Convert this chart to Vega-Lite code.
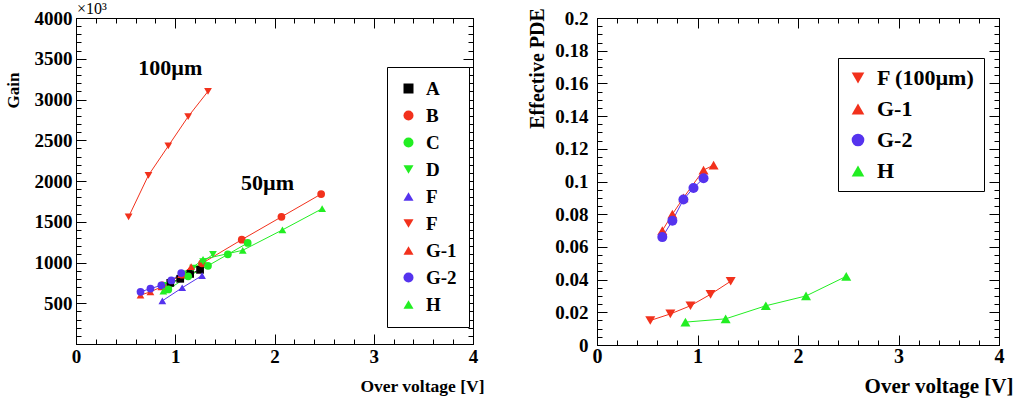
{
  "$schema": "https://vega.github.io/schema/vega-lite/v6.json",
  "autosize": {"type": "pad"},
  "padding": {"left": 3, "top": 0, "right": 5, "bottom": 5},
  "bounds": "flush",
  "spacing": 124,
  "resolve": {"scale": {"color": "independent", "shape": "independent", "stroke": "independent"}},
  "config": {
    "font": "Liberation Serif",
    "view": {"stroke": "black", "strokeWidth": 1},
    "axis": {"grid": false, "domainColor": "black", "tickColor": "black", "labelColor": "black", "titleColor": "black", "labelFont": "Liberation Serif", "titleFont": "Liberation Serif", "labelFontWeight": "bold", "titleFontWeight": "bold", "labelFlush": false, "labelOverlap": false, "labelBound": false}
  },
  "datasets": {
    "gain": [
      {"s": "A", "v": 0.95, "g": 750}, {"s": "A", "v": 1.05, "g": 800}, {"s": "A", "v": 1.15, "g": 860}, {"s": "A", "v": 1.25, "g": 910},
      {"s": "B", "v": 0.87, "g": 720}, {"s": "B", "v": 1.07, "g": 850}, {"s": "B", "v": 1.27, "g": 990}, {"s": "B", "v": 1.67, "g": 1280}, {"s": "B", "v": 2.07, "g": 1560}, {"s": "B", "v": 2.47, "g": 1840},
      {"s": "C", "v": 0.93, "g": 670}, {"s": "C", "v": 1.13, "g": 830}, {"s": "C", "v": 1.33, "g": 960}, {"s": "C", "v": 1.53, "g": 1100}, {"s": "C", "v": 1.73, "g": 1240},
      {"s": "D", "v": 0.88, "g": 720}, {"s": "D", "v": 1.08, "g": 860}, {"s": "D", "v": 1.18, "g": 930}, {"s": "D", "v": 1.28, "g": 1010}, {"s": "D", "v": 1.38, "g": 1100},
      {"s": "F50", "v": 0.87, "g": 530}, {"s": "F50", "v": 1.07, "g": 690}, {"s": "F50", "v": 1.27, "g": 840},
      {"s": "F100", "v": 0.53, "g": 1560}, {"s": "F100", "v": 0.73, "g": 2070}, {"s": "F100", "v": 0.93, "g": 2430}, {"s": "F100", "v": 1.13, "g": 2790}, {"s": "F100", "v": 1.33, "g": 3100},
      {"s": "G-1", "v": 0.65, "g": 600}, {"s": "G-1", "v": 0.75, "g": 640}, {"s": "G-1", "v": 0.86, "g": 700}, {"s": "G-1", "v": 1.06, "g": 850}, {"s": "G-1", "v": 1.16, "g": 950},
      {"s": "G-2", "v": 0.65, "g": 640}, {"s": "G-2", "v": 0.75, "g": 680}, {"s": "G-2", "v": 0.86, "g": 720}, {"s": "G-2", "v": 0.96, "g": 780}, {"s": "G-2", "v": 1.06, "g": 870},
      {"s": "H", "v": 0.88, "g": 650}, {"s": "H", "v": 1.28, "g": 1040}, {"s": "H", "v": 1.68, "g": 1150}, {"s": "H", "v": 2.08, "g": 1400}, {"s": "H", "v": 2.48, "g": 1660}
    ],
    "pde": [
      {"s": "F100", "v": 0.53, "p": 0.015}, {"s": "F100", "v": 0.73, "p": 0.019}, {"s": "F100", "v": 0.93, "p": 0.024}, {"s": "F100", "v": 1.13, "p": 0.031}, {"s": "F100", "v": 1.33, "p": 0.039},
      {"s": "G-1", "v": 0.65, "p": 0.070}, {"s": "G-1", "v": 0.75, "p": 0.080}, {"s": "G-1", "v": 0.86, "p": 0.090}, {"s": "G-1", "v": 1.06, "p": 0.107}, {"s": "G-1", "v": 1.16, "p": 0.110},
      {"s": "G-2", "v": 0.65, "p": 0.066}, {"s": "G-2", "v": 0.75, "p": 0.076}, {"s": "G-2", "v": 0.86, "p": 0.089}, {"s": "G-2", "v": 0.96, "p": 0.096}, {"s": "G-2", "v": 1.06, "p": 0.102},
      {"s": "H", "v": 0.88, "p": 0.014}, {"s": "H", "v": 1.28, "p": 0.016}, {"s": "H", "v": 1.68, "p": 0.024}, {"s": "H", "v": 2.08, "p": 0.030}, {"s": "H", "v": 2.48, "p": 0.042}
    ],
    "labelsL": [
      {"v": 0.95, "g": 3387, "t": "100µm"},
      {"v": 1.93, "g": 1975, "t": "50µm"}
    ],
    "expL": [
      {"v": 0, "g": 4000, "t": "×10³"}
    ]
  },
  "hconcat": [
    {
      "width": 397,
      "height": 326,
      "resolve": {"axis": {"x": "independent", "y": "independent"}},
      "layer": [
        {
          "data": {"name": "gain"},
          "mark": {"type": "line", "strokeWidth": 1},
          "encoding": {
            "x": {"field": "v", "type": "quantitative", "scale": {"domain": [0, 4], "nice": false, "zero": false},
              "axis": {"orient": "bottom", "values": [0, 1, 2, 3, 4], "format": "d",
                "labelFontSize": 19, "labelPadding": 13, "tickSize": -10,
                "title": "Over voltage [V]", "titleFontSize": 17.5, "titleX": 408, "titleY": 42, "titleAlign": "right", "titleBaseline": "middle", "titleAnchor": null}},
            "y": {"field": "g", "type": "quantitative", "scale": {"domain": [0, 4000], "nice": false},
              "axis": {"orient": "left", "values": [0, 500, 1000, 1500, 2000, 2500, 3000, 3500, 4000], "format": "d",
                "labelExpr": "datum.value > 0 ? datum.label : ''",
                "labelFontSize": 19, "labelPadding": 14, "tickSize": -10,
                "title": "Gain", "titleFontSize": 17, "titleAngle": -90, "titleX": -63, "titleY": 72, "titleAlign": "center", "titleBaseline": "middle", "titleAnchor": null}},
            "stroke": {"field": "s", "type": "nominal", "legend": null,
              "scale": {"domain": ["H","G-2","G-1","F100","F50","D","C","B","A"], "range": ["#22ee22","#5533ee","#f2311c","#f2311c","#5533ee","#22ee22","#22ee22","#f2311c","#000000"]}}
          }
        },
        {
          "data": {"name": "gain"},
          "mark": {"type": "point", "filled": true, "opacity": 1, "size": 60},
          "encoding": {
            "x": {"field": "v", "type": "quantitative",
              "axis": {"orient": "top", "values": [0, 1, 2, 3, 4], "labels": false, "title": null, "tickSize": -10}},
            "y": {"field": "g", "type": "quantitative",
              "axis": {"orient": "right", "values": [0, 500, 1000, 1500, 2000, 2500, 3000, 3500, 4000], "labels": false, "title": null, "tickSize": -10}},
            "color": {"field": "s", "type": "nominal",
              "scale": {"domain": ["A","B","C","D","F50","F100","G-1","G-2","H"], "range": ["#000000","#f2311c","#22ee22","#22ee22","#5533ee","#f2311c","#f2311c","#5533ee","#22ee22"]},
              "legend": {"orient": "none", "legendX": 311, "legendY": 49, "title": null, "padding": 12, "labelFontSize": 19, "labelFontWeight": "bold", "labelFont": "Liberation Serif", "labelColor": "black", "symbolSize": 100, "rowPadding": 7, "labelOffset": 8, "strokeColor": "black", "fillColor": "white",
                "labelExpr": "datum.label == 'F50' || datum.label == 'F100' ? 'F' : datum.label"}},
            "shape": {"field": "s", "type": "nominal",
              "scale": {"domain": ["A","B","C","D","F50","F100","G-1","G-2","H"], "range": ["square","circle","circle","triangle-down","triangle-up","triangle-down","triangle-up","circle","triangle-up"]},
              "legend": {"orient": "none", "legendX": 311, "legendY": 49, "title": null, "padding": 12, "labelFontSize": 19, "labelFontWeight": "bold", "labelFont": "Liberation Serif", "labelColor": "black", "symbolSize": 100, "rowPadding": 7, "labelOffset": 8, "strokeColor": "black", "fillColor": "white",
                "labelExpr": "datum.label == 'F50' || datum.label == 'F100' ? 'F' : datum.label"}}
          }
        },
        {
          "data": {"name": "labelsL"},
          "mark": {"type": "text", "font": "Liberation Serif", "fontWeight": "bold", "fontSize": 22, "align": "center", "baseline": "middle", "color": "black"},
          "encoding": {
            "x": {"field": "v", "type": "quantitative",
              "axis": {"orient": "bottom", "values": [0.2,0.4,0.6,0.8,1.2,1.4,1.6,1.8,2.2,2.4,2.6,2.8,3.2,3.4,3.6,3.8], "labels": false, "domain": false, "title": null, "tickSize": -5}},
            "y": {"field": "g", "type": "quantitative",
              "axis": {"orient": "left", "values": [100,200,300,400,600,700,800,900,1100,1200,1300,1400,1600,1700,1800,1900,2100,2200,2300,2400,2600,2700,2800,2900,3100,3200,3300,3400,3600,3700,3800,3900], "labels": false, "domain": false, "title": null, "tickSize": -5}},
            "text": {"field": "t"}
          }
        },
        {
          "data": {"name": "expL"},
          "mark": {"type": "text", "font": "Liberation Serif", "fontSize": 16, "align": "left", "baseline": "bottom", "dx": 1, "dy": -1, "color": "black"},
          "encoding": {
            "x": {"field": "v", "type": "quantitative",
              "axis": {"orient": "top", "values": [0.2,0.4,0.6,0.8,1.2,1.4,1.6,1.8,2.2,2.4,2.6,2.8,3.2,3.4,3.6,3.8], "labels": false, "domain": false, "title": null, "tickSize": -5}},
            "y": {"field": "g", "type": "quantitative",
              "axis": {"orient": "right", "values": [100,200,300,400,600,700,800,900,1100,1200,1300,1400,1600,1700,1800,1900,2100,2200,2300,2400,2600,2700,2800,2900,3100,3200,3300,3400,3600,3700,3800,3900], "labels": false, "domain": false, "title": null, "tickSize": -5}},
            "text": {"field": "t"}
          }
        }
      ]
    },
    {
      "width": 402,
      "height": 327,
      "resolve": {"axis": {"x": "independent", "y": "independent"}},
      "layer": [
        {
          "data": {"name": "pde"},
          "transform": [{"filter": "datum.s == 'F100' || datum.s == 'G-1'"}],
          "mark": {"type": "line", "strokeWidth": 1},
          "encoding": {
            "x": {"field": "v", "type": "quantitative", "scale": {"domain": [0, 4], "nice": false, "zero": false},
              "axis": {"orient": "bottom", "values": [0, 1, 2, 3, 4], "format": "d",
                "labelFontSize": 20, "labelPadding": 11, "tickSize": -10,
                "title": "Over voltage [V]", "titleFontSize": 21, "titleX": 416, "titleY": 41, "titleAlign": "right", "titleBaseline": "middle", "titleAnchor": null}},
            "y": {"field": "p", "type": "quantitative", "scale": {"domain": [0, 0.2], "nice": false},
              "axis": {"orient": "left", "values": [0, 0.02, 0.04, 0.06, 0.08, 0.1, 0.12, 0.14, 0.16, 0.18, 0.2], "format": "~g",
                "labelFontSize": 19, "labelPadding": 19, "tickSize": -10,
                "title": "Effective PDE", "titleFontSize": 20, "titleAngle": -90, "titleX": -60, "titleY": 50, "titleAlign": "center", "titleBaseline": "middle", "titleAnchor": null}},
            "stroke": {"field": "s", "type": "nominal", "legend": null,
              "scale": {"domain": ["H","G-2","G-1","F100"], "range": ["#22ee22","#5533ee","#f2311c","#f2311c"]}}
          }
        },
        {
          "data": {"name": "pde"},
          "transform": [{"filter": "datum.s == 'G-2' || datum.s == 'H'"}],
          "mark": {"type": "line", "strokeWidth": 1},
          "encoding": {
            "x": {"field": "v", "type": "quantitative",
              "axis": {"orient": "bottom", "values": [0.2,0.4,0.6,0.8,1.2,1.4,1.6,1.8,2.2,2.4,2.6,2.8,3.2,3.4,3.6,3.8], "labels": false, "domain": false, "title": null, "tickSize": -5}},
            "y": {"field": "p", "type": "quantitative",
              "axis": {"orient": "left", "values": [0.005,0.01,0.015,0.025,0.03,0.035,0.045,0.05,0.055,0.065,0.07,0.075,0.085,0.09,0.095,0.105,0.11,0.115,0.125,0.13,0.135,0.145,0.15,0.155,0.165,0.17,0.175,0.185,0.19,0.195], "labels": false, "domain": false, "title": null, "tickSize": -5}},
            "stroke": {"field": "s", "type": "nominal", "legend": null}
          }
        },
        {
          "data": {"name": "pde"},
          "transform": [{"filter": "datum.s == 'F100' || datum.s == 'G-1'"}],
          "mark": {"type": "point", "filled": true, "opacity": 1, "size": 100},
          "encoding": {
            "x": {"field": "v", "type": "quantitative",
              "axis": {"orient": "top", "values": [0, 1, 2, 3, 4], "labels": false, "title": null, "tickSize": -10}},
            "y": {"field": "p", "type": "quantitative",
              "axis": {"orient": "right", "values": [0, 0.02, 0.04, 0.06, 0.08, 0.1, 0.12, 0.14, 0.16, 0.18, 0.2], "labels": false, "title": null, "tickSize": -10}},
            "color": {"field": "s", "type": "nominal",
              "scale": {"domain": ["F100","G-1","G-2","H"], "range": ["#f2311c","#f2311c","#5533ee","#22ee22"]},
              "legend": {"orient": "none", "legendX": 241, "legendY": 40, "title": null, "padding": 9, "labelFontSize": 22, "labelFontWeight": "bold", "labelFont": "Liberation Serif", "labelColor": "black", "symbolSize": 160, "rowPadding": 9, "labelOffset": 8, "strokeColor": "black", "fillColor": "white",
                "labelExpr": "datum.label == 'F100' ? 'F (100µm)' : datum.label"}},
            "shape": {"field": "s", "type": "nominal",
              "scale": {"domain": ["F100","G-1","G-2","H"], "range": ["triangle-down","triangle-up","circle","triangle-up"]},
              "legend": {"orient": "none", "legendX": 241, "legendY": 40, "title": null, "padding": 9, "labelFontSize": 22, "labelFontWeight": "bold", "labelFont": "Liberation Serif", "labelColor": "black", "symbolSize": 160, "rowPadding": 9, "labelOffset": 8, "strokeColor": "black", "fillColor": "white",
                "labelExpr": "datum.label == 'F100' ? 'F (100µm)' : datum.label"}}
          }
        },
        {
          "data": {"name": "pde"},
          "transform": [{"filter": "datum.s == 'G-2' || datum.s == 'H'"}],
          "mark": {"type": "point", "filled": true, "opacity": 1, "size": 100},
          "encoding": {
            "x": {"field": "v", "type": "quantitative",
              "axis": {"orient": "top", "values": [0.2,0.4,0.6,0.8,1.2,1.4,1.6,1.8,2.2,2.4,2.6,2.8,3.2,3.4,3.6,3.8], "labels": false, "domain": false, "title": null, "tickSize": -5}},
            "y": {"field": "p", "type": "quantitative",
              "axis": {"orient": "right", "values": [0.005,0.01,0.015,0.025,0.03,0.035,0.045,0.05,0.055,0.065,0.07,0.075,0.085,0.09,0.095,0.105,0.11,0.115,0.125,0.13,0.135,0.145,0.15,0.155,0.165,0.17,0.175,0.185,0.19,0.195], "labels": false, "domain": false, "title": null, "tickSize": -5}},
            "color": {"field": "s", "type": "nominal",
              "legend": {"orient": "none", "legendX": 241, "legendY": 40, "title": null, "padding": 9, "labelFontSize": 22, "labelFontWeight": "bold", "labelFont": "Liberation Serif", "labelColor": "black", "symbolSize": 160, "rowPadding": 9, "labelOffset": 8, "strokeColor": "black", "fillColor": "white",
                "labelExpr": "datum.label == 'F100' ? 'F (100µm)' : datum.label"}},
            "shape": {"field": "s", "type": "nominal",
              "legend": {"orient": "none", "legendX": 241, "legendY": 40, "title": null, "padding": 9, "labelFontSize": 22, "labelFontWeight": "bold", "labelFont": "Liberation Serif", "labelColor": "black", "symbolSize": 160, "rowPadding": 9, "labelOffset": 8, "strokeColor": "black", "fillColor": "white",
                "labelExpr": "datum.label == 'F100' ? 'F (100µm)' : datum.label"}}
          }
        }
      ]
    }
  ]
}
